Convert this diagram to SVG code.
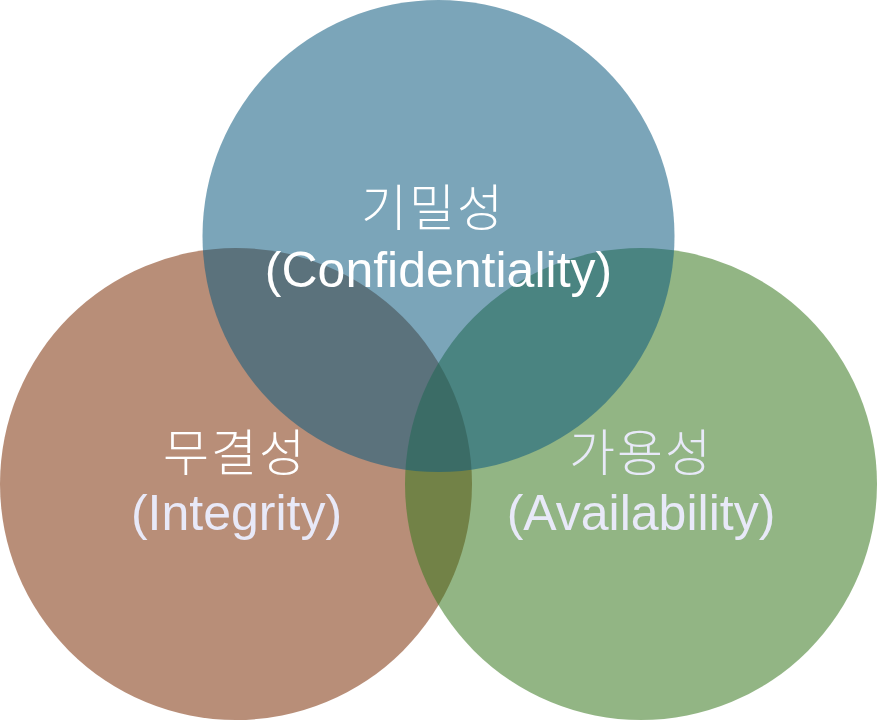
<svg xmlns="http://www.w3.org/2000/svg" width="877" height="721" viewBox="0 0 877 721">
  <style>
    .circle { fill-opacity: 0.55; }
    .lbl { font-family: "Liberation Sans", "Noto Sans CJK KR", Arial, sans-serif; font-size: 50px; text-anchor: middle; }
    .ko { font-family: "Noto Sans CJK KR", "Liberation Sans", sans-serif; font-size: 50px; font-weight: 300; letter-spacing: 2px; text-anchor: middle; }
    .w { fill: #FFFFFF; }
    .lav { fill: #E8E9F8; }
  </style>
  <rect width="877" height="721" fill="#FFFFFF"/>
  <g id="integrity">
    <circle class="circle" cx="236" cy="484" r="236" fill="#7E320A"/>
  </g>
  <g id="availability">
    <circle class="circle" cx="641" cy="484" r="236" fill="#39781F"/>
  </g>
  <g id="confidentiality">
    <circle class="circle" cx="438.5" cy="236" r="236" fill="#0F5B80"/>
  </g>
  <g id="labels">
    <text class="ko w" x="433" y="226">기밀성</text>
    <text class="lbl w" x="438.5" y="287">(Confidentiality)</text>
    <text class="ko w" x="235" y="471">무결성</text>
    <text class="lbl lav" x="236.5" y="530">(Integrity)</text>
    <text class="ko lav" x="641" y="471">가용성</text>
    <text class="lbl lav" x="641" y="530">(Availability)</text>
  </g>
</svg>
